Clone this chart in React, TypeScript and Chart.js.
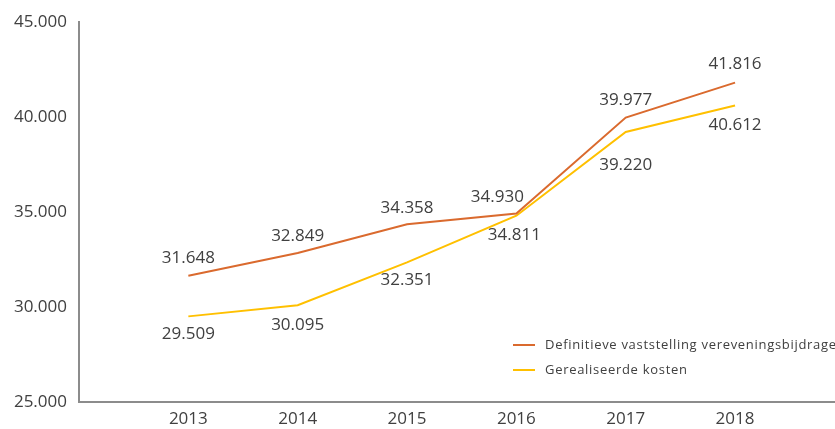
import React, { useEffect, useRef } from "react";
import { Chart, registerables } from "chart.js";

Chart.register(...registerables);

const years = [2013, 2014, 2015, 2016, 2017, 2018];
const vastgesteld = [31648, 32849, 34358, 34930, 39977, 41816];
const gerealiseerd = [29509, 30095, 32351, 34811, 39220, 40612];
const seriesNames = ["Definitieve vaststelling vereveningsbijdrage", "Gerealiseerde kosten"];
const yTicks = [25000, 30000, 35000, 40000, 45000];

const ORANGE = "#DA6A2E";
const YELLOW = "#FFC000";
const TEXT = "#404040";
const FONT = "'Open Sans', 'Liberation Sans', sans-serif";

const fmtDots = (v: number) => String(Math.round(v)).replace(/\B(?=(\d{3})+(?!\d))/g, ".");

// label offsets per dataset (dx, dy) per point
const labelOffsets = [
  [[0, -18], [0, -17], [0, -16], [-19, -16], [0, -17], [0, -19]],
  [[0, 18], [0, 20], [0, 18], [-2, 19], [0, 33], [0, 20]],
];

const labelPlugin = {
  id: "valueLabels",
  afterDatasetsDraw(chart: any) {
    const ctx = chart.ctx;
    ctx.save();
    ctx.font = `17px ${FONT}`;
    ctx.fillStyle = TEXT;
    ctx.textAlign = "center";
    ctx.textBaseline = "middle";
    chart.data.datasets.forEach((ds: any, di: number) => {
      const meta = chart.getDatasetMeta(di);
      meta.data.forEach((pt: any, i: number) => {
        const v = ds.data[i].y;
        const [dx, dy] = labelOffsets[di][i];
        ctx.fillText(fmtDots(v), pt.x + dx, pt.y + dy);
      });
    });
    ctx.restore();
  },
  afterDraw(chart: any) {
    const ctx = chart.ctx;
    ctx.save();
    ctx.font = `13px ${FONT}`;
    try { (ctx as any).letterSpacing = "0.7px"; } catch (e) {}
    ctx.textBaseline = "middle";
    ctx.textAlign = "left";
    const colors = [ORANGE, YELLOW];
    const ys = [345, 370];
    seriesNames.forEach((name, i) => {
      ctx.strokeStyle = colors[i];
      ctx.lineWidth = 2;
      ctx.beginPath();
      ctx.moveTo(513, ys[i]);
      ctx.lineTo(535, ys[i]);
      ctx.stroke();
      ctx.fillStyle = TEXT;
      ctx.fillText(name, 545, ys[i]);
    });
    ctx.restore();
  },
};

export default function App() {
  const ref = useRef<HTMLCanvasElement | null>(null);
  useEffect(() => {
    if (!ref.current) return;
    const chart = new Chart(ref.current, {
      type: "line",
      data: {
        datasets: [
          {
            label: seriesNames[0],
            data: years.map((y, i) => ({ x: y, y: vastgesteld[i] })),
            borderColor: ORANGE,
            borderWidth: 2,
            pointRadius: 0,
            tension: 0,
          },
          {
            label: seriesNames[1],
            data: years.map((y, i) => ({ x: y, y: gerealiseerd[i] })),
            borderColor: YELLOW,
            borderWidth: 2,
            pointRadius: 0,
            tension: 0,
          },
        ],
      },
      options: {
        animation: false,
        responsive: true,
        maintainAspectRatio: false,
        layout: { padding: { top: 22, right: 0, bottom: 0, left: 0 } },
        plugins: { legend: { display: false }, tooltip: { enabled: false } },
        scales: {
          x: {
            type: "linear",
            min: 2012,
            max: 2018.914,
            afterBuildTicks: (scale: any) => {
              scale.ticks = years.map((v) => ({ value: v }));
            },
            afterFit: (scale: any) => {
              scale.height = 27;
            },
            grid: { display: false, drawTicks: false },
            border: { color: "#8c8c8c", width: 2 },
            ticks: {
              color: TEXT,
              font: { family: FONT, size: 17 },
              padding: 7,
              maxRotation: 0,
              autoSkip: false,
              callback: (v: any) => String(v),
            },
          },
          y: {
            min: 25000,
            max: 45000,
            afterBuildTicks: (scale: any) => {
              scale.ticks = yTicks.map((v) => ({ value: v }));
            },
            afterFit: (scale: any) => {
              scale.width = 79;
            },
            grid: { display: false, drawTicks: false },
            border: { color: "#8c8c8c", width: 2 },
            ticks: {
              color: TEXT,
              font: { family: FONT, size: 17 },
              padding: 12,
              callback: (v: any) => fmtDots(Number(v)),
            },
          },
        },
      },
      plugins: [labelPlugin],
    } as any);
    return () => chart.destroy();
  }, []);
  return (
    <div style={{ position: "fixed", left: 0, top: 0, width: 835, height: 429 }}>
      <canvas ref={ref} />
    </div>
  );
}
